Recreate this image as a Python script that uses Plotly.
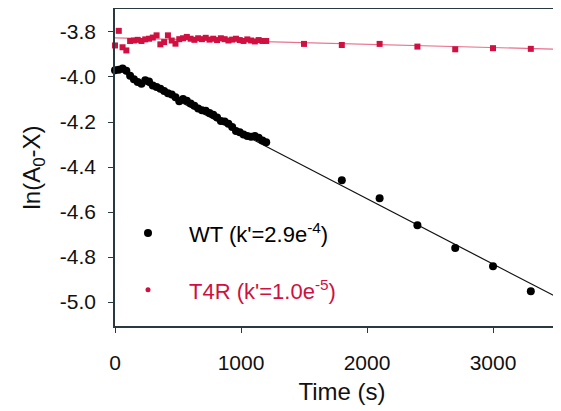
import plotly.graph_objects as go

# WT (black circles), time in s
wt_t = [0, 30, 60, 90, 120, 150, 180, 210, 240, 270, 300, 330, 360, 390, 420,
        450, 480, 510, 540, 570, 600, 630, 660, 690, 720, 750, 780, 810, 840,
        870, 900, 930, 960, 990, 1020, 1050, 1080, 1110, 1140, 1170, 1200,
        1800, 2100, 2400, 2700, 3000, 3300]
wt_y = [-3.970, -3.968, -3.962, -3.972, -3.995, -4.010, -4.022, -4.030, -4.015,
        -4.020, -4.038, -4.045, -4.052, -4.062, -4.072, -4.078, -4.090, -4.108,
        -4.098, -4.105, -4.118, -4.128, -4.140, -4.148, -4.150, -4.160, -4.168,
        -4.180, -4.195, -4.198, -4.208, -4.222, -4.240, -4.245, -4.255, -4.262,
        -4.265, -4.262, -4.270, -4.282, -4.290,
        -4.459, -4.539, -4.658, -4.760, -4.841, -4.952]

# T4R (red squares)
t4r_t = [0, 30, 60, 90, 120, 150, 180, 210, 240, 270, 300, 330, 360, 390, 420,
         450, 480, 510, 540, 570, 600, 630, 660, 690, 720, 750, 780, 810, 840,
         870, 900, 930, 960, 990, 1020, 1050, 1080, 1110, 1140, 1170, 1200,
         1500, 1800, 2100, 2400, 2700, 3000, 3300]
t4r_y = [-3.860, -3.795, -3.868, -3.882, -3.840, -3.838, -3.835, -3.840, -3.833,
         -3.830, -3.825, -3.815, -3.855, -3.845, -3.815, -3.838, -3.852, -3.832,
         -3.828, -3.822, -3.830, -3.835, -3.828, -3.832, -3.826, -3.834, -3.830,
         -3.836, -3.828, -3.832, -3.838, -3.834, -3.830, -3.836, -3.840, -3.833,
         -3.838, -3.842, -3.836, -3.840, -3.840,
         -3.853, -3.858, -3.853, -3.865, -3.877, -3.872, -3.875]

# linear fits (end points)
fit_t = [0, 3603]
wt_fit = [-3.960, -5.006]
t4r_fit = [-3.826, -3.878]

x_ticks = [0, 1000, 2000, 3000]
y_ticks = [-3.8, -4.0, -4.2, -4.4, -4.6, -4.8, -5.0]
y_ticktext = ["-3.8", "-4.0", "-4.2", "-4.4", "-4.6", "-4.8", "-5.0"]

wt_label = "WT (k'=2.9e<sup>-4</sup>)"
t4r_label = "T4R (k'=1.0e<sup>-5</sup>)"

RED = "#d01040"
FONT = "Liberation Sans, Arial, sans-serif"

fig = go.Figure()
fig.add_trace(go.Scatter(x=fit_t, y=t4r_fit, mode="lines",
                         line=dict(color="#e8708c", width=1.2), hoverinfo="skip"))
fig.add_trace(go.Scatter(x=fit_t, y=wt_fit, mode="lines",
                         line=dict(color="#111111", width=1.2), hoverinfo="skip"))
fig.add_trace(go.Scatter(x=t4r_t, y=t4r_y, mode="markers", cliponaxis=False,
                         marker=dict(symbol="square", size=6, color=RED)))
fig.add_trace(go.Scatter(x=wt_t, y=wt_y, mode="markers", cliponaxis=False,
                         marker=dict(symbol="circle", size=8, color="#000000")))

# legend drawn by hand (paper x relative to a 454px wide plot area)
lx_dot = 33 / 454
lx_txt = 72 / 454
fig.add_shape(type="circle", xref="paper", yref="paper", xsizemode="pixel",
              ysizemode="pixel", xanchor=lx_dot, yanchor=0.293,
              x0=-4, x1=4, y0=-4, y1=4, fillcolor="#000", line_width=0)
fig.add_shape(type="circle", xref="paper", yref="paper", xsizemode="pixel",
              ysizemode="pixel", xanchor=lx_dot, yanchor=0.114,
              x0=-2.5, x1=2.5, y0=-2.5, y1=2.5, fillcolor=RED, line_width=0)
fig.add_annotation(text=wt_label, xref="paper", yref="paper", x=lx_txt, y=0.293,
                   xanchor="left", yanchor="middle", showarrow=False,
                   font=dict(size=22, color="#000", family=FONT))
fig.add_annotation(text=t4r_label, xref="paper", yref="paper", x=lx_txt, y=0.114,
                   xanchor="left", yanchor="middle", showarrow=False,
                   font=dict(size=22, color=RED, family=FONT))

axis_col = "#2a3840"
# page body has an 8px margin, so the figure is shifted to compensate;
# the plot runs off the right edge of the window like in the original
fig.update_layout(
    width=561, height=403,
    margin=dict(l=107, r=0, t=1, b=85),
    paper_bgcolor="white", plot_bgcolor="white",
    showlegend=False,
    font=dict(family=FONT, size=21, color="#111"),
    xaxis=dict(range=[0, 3603], tickvals=x_ticks,
               showgrid=False, zeroline=False, showline=True, mirror=True,
               linecolor=axis_col, linewidth=1.5, ticks="outside", ticklen=5,
               tickcolor=axis_col, ticklabelstandoff=12,
               title=dict(text="Time (s)", font=dict(size=24), standoff=10)),
    yaxis=dict(range=[-5.106, -3.698], tickvals=y_ticks, ticktext=y_ticktext,
               showgrid=False, zeroline=False, showline=True,
               linecolor=axis_col, linewidth=1.5, ticks="outside", ticklen=5,
               tickcolor=axis_col, ticklabelstandoff=8,
               title=dict(text="ln(A<sub>0</sub>-X)", font=dict(size=24), standoff=12)),
)

fig.write_html("out.html")
